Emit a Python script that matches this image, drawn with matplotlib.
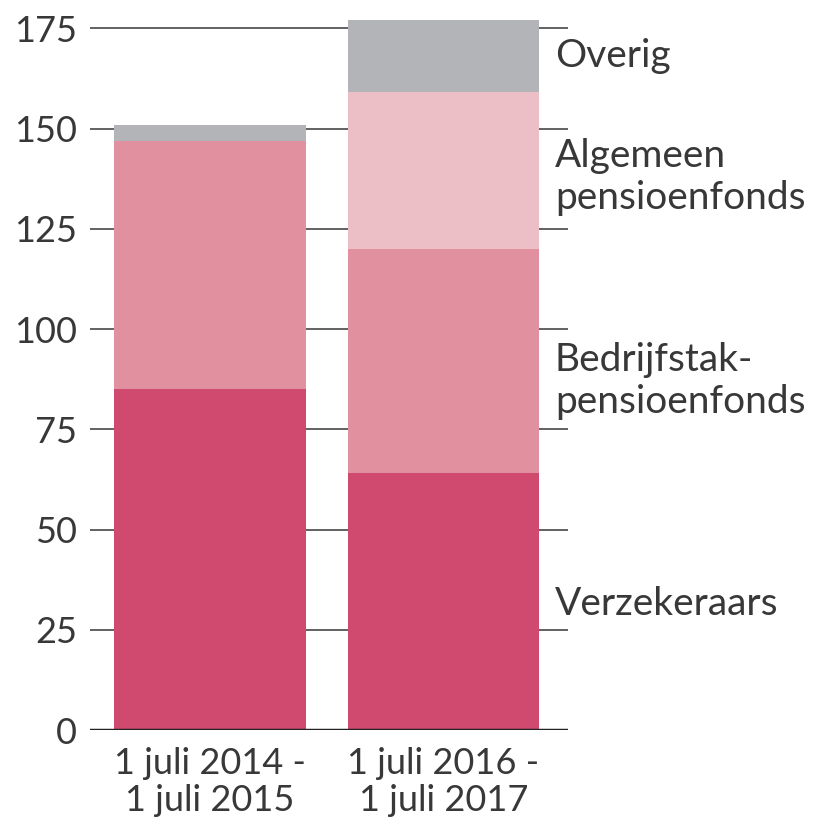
import matplotlib.pyplot as plt
import numpy as np

periods = ["1 juli 2014 -\n1 juli 2015", "1 juli 2016 -\n1 juli 2017"]
verzekeraars = np.array([85, 64])
bedrijfstak = np.array([62, 56])
algemeen = np.array([0, 39])
overig = np.array([4, 18])
series = [("Verzekeraars", verzekeraars, "#cf4a6e"),
          ("Bedrijfstak-\npensioenfonds", bedrijfstak, "#e0909e"),
          ("Algemeen\npensioenfonds", algemeen, "#ecbfc6"),
          ("Overig", overig, "#b3b4b7")]
label_y = [31.5, 87, 138, 168]

plt.rcParams['font.family'] = ['Lato', 'DejaVu Sans']
txt = "#383838"

fig = plt.figure(figsize=(8.16, 8.24), dpi=100)
ax = fig.add_axes([0.110, 0.114, 0.586, 0.876])

x = np.arange(len(periods))
bottom = np.zeros(len(periods))
for name, vals, col in series:
    ax.bar(x, vals, 0.82, bottom=bottom, color=col, zorder=2)
    bottom += vals

for (name, vals, col), ly in zip(series, label_y):
    ax.text(1.477, ly, name, fontsize=28, color=txt, va="center",
            ha="left", linespacing=1.2, clip_on=False)

ax.set_xlim(-0.514, 1.533)
ax.set_ylim(0, 180)
ax.set_yticks(np.arange(0, 176, 25))
ax.grid(axis="y", color="#555555", lw=1.3, zorder=1)
ax.axhline(0, color="#222222", lw=2.5, zorder=3)
ax.set_xticks(x)
ax.set_xticklabels(periods, fontsize=26, color=txt, linespacing=1.15)
ax.tick_params(axis="y", length=0, pad=9, labelsize=26, labelcolor=txt)
ax.tick_params(axis="x", length=0, pad=12)
for s in ax.spines.values():
    s.set_visible(False)

fig.savefig("out.png", dpi=100, facecolor="white")
